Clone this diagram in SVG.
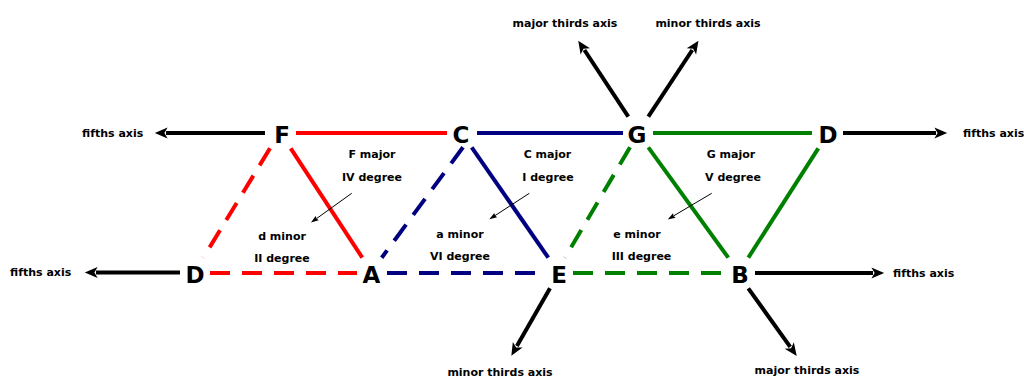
<svg xmlns="http://www.w3.org/2000/svg" width="1024" height="379" viewBox="0 0 1024 379">
<style>
.n{font-family:"DejaVu Sans",sans-serif;font-weight:bold;font-size:23px;fill:#000;text-anchor:middle}
.l{font-family:"DejaVu Sans",sans-serif;font-weight:bold;font-size:11px;fill:#000;text-anchor:middle}
.s{font-family:"DejaVu Sans",sans-serif;font-weight:bold;font-size:11px;fill:#000}
.r{stroke:#ff0000;stroke-width:4;fill:none}
.b{stroke:#000080;stroke-width:4;fill:none}
.g{stroke:#008000;stroke-width:4;fill:none}
.d{stroke-dasharray:20,12}
.k{stroke:#000;stroke-width:4;fill:none;marker-end:url(#ah)}
.t{stroke:#000;stroke-width:1;fill:none;marker-end:url(#sh)}
</style>
<defs>
<marker id="ah" markerUnits="userSpaceOnUse" markerWidth="20" markerHeight="20" orient="auto" refX="0" refY="0" overflow="visible" viewBox="-5 -10 25 20">
<path d="M14,0 L-2,-7 L2,0 L-2,7 Z" fill="#000"/>
</marker>
<marker id="sh" markerUnits="userSpaceOnUse" markerWidth="12" markerHeight="12" orient="auto" refX="0" refY="0" overflow="visible" viewBox="-3 -6 14 12">
<path d="M8,0 L-1,-3 L0,0 L-1,3 Z" fill="#000"/>
</marker>
</defs>
<rect width="1024" height="379" fill="#fff"/>
<g id="connectors">
<line class="r" x1="296" y1="133" x2="447" y2="133"/>
<line class="r" x1="290.7" y1="148.3" x2="362.3" y2="257.7"/>
<line class="r d" x1="270" y1="148.3" x2="203.3" y2="257.7"/>
<line class="r d" x1="210" y1="273" x2="357" y2="273"/>
<line class="b" x1="477" y1="133" x2="623" y2="133"/>
<line class="b" x1="471.7" y1="147.3" x2="548.3" y2="257.7"/>
<line class="b d" x1="463" y1="147.3" x2="381.7" y2="257.7"/>
<line class="b d" x1="387" y1="273" x2="540" y2="273"/>
<line class="g" x1="653" y1="133" x2="812" y2="133"/>
<line class="g" x1="648.3" y1="147.3" x2="728.3" y2="257.7"/>
<line class="g" x1="818.3" y1="148.3" x2="748.3" y2="257.7"/>
<line class="g d" x1="630" y1="147.3" x2="565" y2="257.7"/>
<line class="g d" x1="573" y1="273" x2="722" y2="273"/>
<line class="k" x1="265" y1="133" x2="166" y2="133"/>
<line class="k" x1="843" y1="133" x2="936" y2="133"/>
<line class="k" x1="180" y1="272.5" x2="96" y2="272.5"/>
<line class="k" x1="755" y1="273" x2="873" y2="273"/>
<line class="k" x1="628.3" y1="116.7" x2="584.4" y2="50"/>
<line class="k" x1="648.3" y1="116.7" x2="692.3" y2="50"/>
<line class="k" x1="550" y1="288.3" x2="516.9" y2="346.1"/>
<line class="k" x1="748.3" y1="288.3" x2="790.2" y2="346.9"/>
<line class="t" x1="351.7" y1="193.3" x2="316.5" y2="218.6"/>
<line class="t" x1="529.3" y1="193.3" x2="495" y2="215.6"/>
<line class="t" x1="711.7" y1="193.3" x2="673.6" y2="215.9"/>
</g>
<g id="node-F"><text class="n" x="282" y="143">F</text></g>
<g id="node-C"><text class="n" x="461" y="142.5">C</text></g>
<g id="node-G"><text class="n" x="637" y="142.5">G</text></g>
<g id="node-D-top"><text class="n" x="828" y="142.5">D</text></g>
<g id="node-D-bottom"><text class="n" x="195" y="282.5">D</text></g>
<g id="node-A"><text class="n" x="371.5" y="282.5">A</text></g>
<g id="node-E"><text class="n" x="559" y="282.5">E</text></g>
<g id="node-B"><text class="n" x="740" y="282.5">B</text></g>
<g id="labels">
<text class="l" x="372" y="158">F major</text>
<text class="l" x="372" y="181">IV degree</text>
<text class="l" x="282" y="240">d minor</text>
<text class="l" x="282" y="262">II degree</text>
<text class="l" x="547.5" y="158">C major</text>
<text class="l" x="548" y="181">I degree</text>
<text class="l" x="460" y="238">a minor</text>
<text class="l" x="460" y="260">VI degree</text>
<text class="l" x="731" y="158">G major</text>
<text class="l" x="733" y="181">V degree</text>
<text class="l" x="637" y="238">e minor</text>
<text class="l" x="641.5" y="260">III degree</text>
<text class="s" x="82" y="136.5">fifths axis</text>
<text class="s" x="10" y="276">fifths axis</text>
<text class="s" x="963" y="136.5">fifths axis</text>
<text class="s" x="893" y="277">fifths axis</text>
<text class="l" x="565" y="27">major thirds axis</text>
<text class="l" x="708" y="27">minor thirds axis</text>
<text class="l" x="500" y="376">minor thirds axis</text>
<text class="l" x="807" y="374">major thirds axis</text>
</g>
</svg>
